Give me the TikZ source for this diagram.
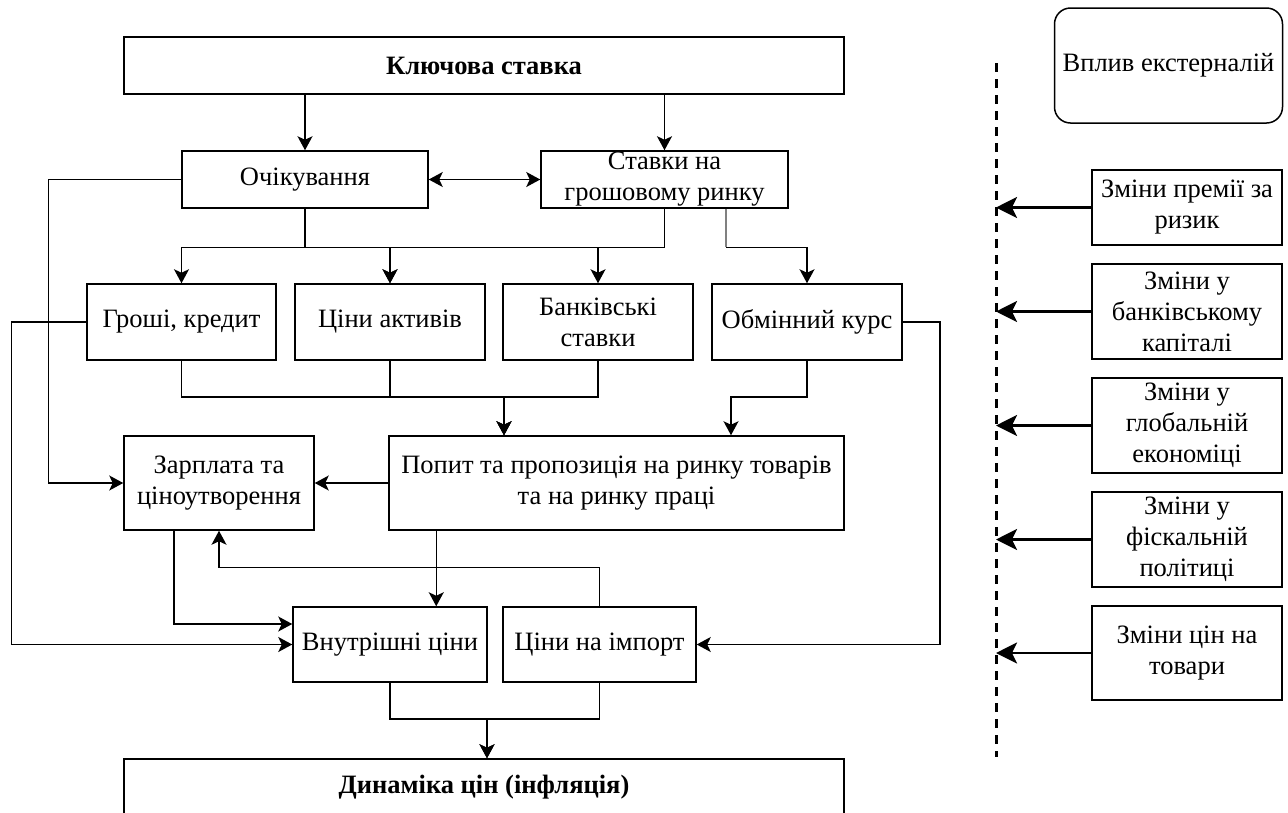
\documentclass[tikz,border=0pt]{standalone}
\usepackage{fontspec}
\setmainfont{Liberation Serif}
\usetikzlibrary{arrows.meta}
\begin{document}
\begin{tikzpicture}[x=1pt,y=-1pt,
  txt/.style={font=\fontsize{26.5}{31}\selectfont},
  box/.style={draw, line width=1.5pt, rectangle, inner sep=0pt, align=center, txt},
  conn/.style={line width=1.5pt},
  arr/.style={conn, -{Stealth[length=14pt,width=15pt,inset=3.5pt]}},
  darr/.style={conn, {Stealth[length=14pt,width=15pt,inset=3.5pt]}-{Stealth[length=14pt,width=15pt,inset=3.5pt]}},
  thickarr/.style={line width=2.8pt, -{Stealth[length=21pt,width=21pt,inset=5pt]}},
  sidebox/.style={box, minimum width=190, minimum height=95}
]
\useasboundingbox (0,0) rectangle (1288,812);

% main boxes
\node[box, minimum width=720, minimum height=57, font=\bfseries\fontsize{26.5}{31}\selectfont] (key) at (484,65.5) {Ключова ставка};
\node[box, minimum width=246, minimum height=57] (exp) at (305,179.5) {Очікування};
\node[box, minimum width=247, minimum height=57] (mm) at (664.5,179.5) {Ставки на\\грошовому ринку};
\node[box, minimum width=189, minimum height=76] (money) at (181.5,322) {Гроші, кредит};
\node[box, minimum width=190, minimum height=76] (assets) at (390,322) {Ціни активів};
\node[box, minimum width=190, minimum height=76] (bank) at (598,322) {Банківські\\ставки};
\node[box, minimum width=190, minimum height=76] (fx) at (807,322) {Обмінний курс};
\node[box, minimum width=190, minimum height=94] (wage) at (219,483) {Зарплата та\\ціноутворення};
\node[box, minimum width=455, minimum height=94] (demand) at (616.5,483) {Попит та пропозиція на ринку товарів\\та на ринку праці};
\node[box, minimum width=194, minimum height=75] (dom) at (390,644.5) {Внутрішні ціни};
\node[box, minimum width=193, minimum height=75] (imp) at (599.5,644.5) {Ціни на імпорт};
\node[box, minimum width=720, minimum height=57, font=\bfseries\fontsize{26.5}{31}\selectfont] (dyn) at (484,787.5) {Динаміка цін (інфляція)};

% junction coordinates
\coordinate (j1) at (504,397);
\coordinate (j2) at (731,397);
\coordinate (j3) at (487,719);

% connectors
\draw[arr] (exp.north |- key.south) -- (exp.north);
\draw[arr] (mm.north |- key.south) -- (mm.north);
\draw[darr] (exp.east) -- (mm.west);
\draw[arr] (exp.west) -- ++(-133,0) |- (wage.west);
\draw[arr] (exp.south) -- ++(0,38.5) -| (money.north);
\draw[arr] (exp.south) -- ++(0,38.5) -| (assets.north);
\draw[arr] (mm.south) -- ++(0,38.5) -| (assets.north);
\draw[arr] (mm.south) -- ++(0,38.5) -| (bank.north);
\draw[conn, gray] ([xshift=61.5pt]mm.south) -- ++(0,38.5);
\draw[arr] ([xshift=61.5pt]mm.south) ++(0,38.5) -| (fx.north);

\draw[arr] (money.south) |- (j1) -- (j1 |- demand.north);
\draw[arr] (assets.south) |- (j1) -- (j1 |- demand.north);
\draw[arr] (bank.south) |- (j1) -- (j1 |- demand.north);
\draw[arr] (fx.south) |- (j2) -- (j2 |- demand.north);

\draw[arr] (money.west) -- ++(-75,0) |- (dom.west);
\draw[arr] (fx.east) -- ++(37,0) |- (imp.east);
\draw[arr] (demand.west) -- (wage.east);
\draw[arr] ([xshift=48pt]demand.south west) -- ([xshift=144pt]dom.north west);
\draw[arr] ([xshift=-45pt]wage.south) |- ([yshift=20.5pt]dom.west);
\draw[arr] (imp.north) -- ++(0,-39) -| (wage.south);
\draw[arr] (dom.south) |- (j3) -- (j3 |- dyn.north);
\draw[arr] (imp.south) |- (j3) -- (j3 |- dyn.north);

% right side
\coordinate (dtop) at (996,63);
\coordinate (dbot) at (996,757);
\draw[line width=3pt, dash pattern=on 9pt off 7pt] (dtop) -- (dbot);

\node[box, rounded corners=16pt, minimum width=228, minimum height=115] (ext) at (1168.5,65.5) {Вплив екстерналій};
\node[sidebox, minimum height=75] (r1) at (1187,207.5) {Зміни премії за\\ризик};
\node[sidebox] (r2) at (1187,311.5) {Зміни у\\банківському\\капіталі};
\node[sidebox] (r3) at (1187,425.5) {Зміни у\\глобальній\\економіці};
\node[sidebox] (r4) at (1187,539.5) {Зміни у\\фіскальній\\політиці};
\node[sidebox, minimum height=94] (r5) at (1187,653) {Зміни цін на\\товари};

\foreach \r in {r1,r2,r3,r4,r5}
  \draw[thickarr] (\r.west) -- (\r.west -| dtop);
\end{tikzpicture}
\end{document}
